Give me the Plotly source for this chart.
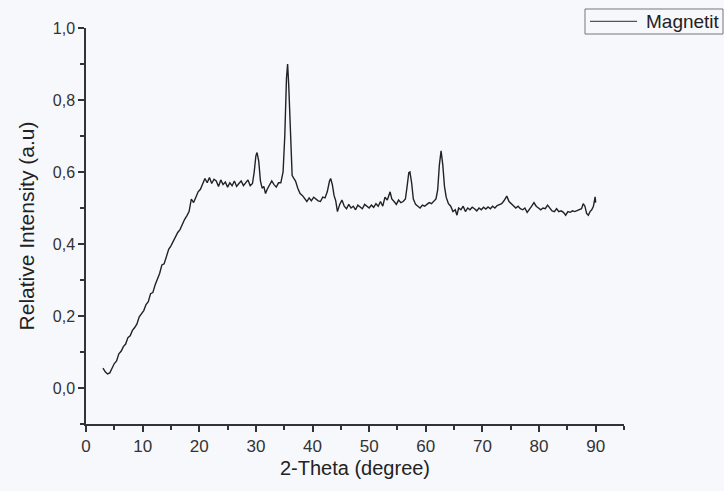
import plotly.graph_objects as go

two_theta = [
    3.0, 3.4, 3.8, 4.2, 4.6, 5.0, 5.4, 5.8, 6.2, 6.6, 7.0, 7.4, 7.8, 8.2, 8.6, 9.0, 9.4, 9.8,
    10.2, 10.6, 11.0, 11.4, 11.8, 12.2, 12.6, 13.0, 13.4, 13.8, 14.2, 14.6, 15.0, 15.4, 15.8,
    16.2, 16.6, 17.0, 17.4, 17.8, 18.2, 18.6, 19.0, 19.4, 19.8, 20.2, 20.6, 21.0, 21.4, 21.8,
    22.2, 22.6, 23.0, 23.4, 23.8, 24.2, 24.6, 25.0, 25.4, 25.8, 26.2, 26.6, 27.0, 27.4, 27.8,
    28.2, 28.6, 29.0, 29.4, 29.7, 30.0, 30.2, 30.5, 30.8, 31.1, 31.4, 31.7, 32.0, 32.4, 32.8,
    33.2, 33.6, 34.0, 34.4, 34.8, 35.1, 35.4, 35.6, 35.8, 36.1, 36.4, 36.7, 37.0, 37.4, 37.8,
    38.2, 38.6, 39.0, 39.4, 39.8, 40.2, 40.6, 41.0, 41.4, 41.8, 42.2, 42.6, 43.0, 43.2, 43.5,
    43.8, 44.1, 44.4, 44.8, 45.2, 45.6, 46.0, 46.4, 46.8, 47.2, 47.6, 48.0, 48.4, 48.8, 49.2,
    49.6, 50.0, 50.4, 50.8, 51.2, 51.6, 52.0, 52.4, 52.8, 53.2, 53.7, 54.0, 54.4, 54.8, 55.2,
    55.6, 56.0, 56.4, 56.7, 57.0, 57.2, 57.5, 57.8, 58.2, 58.6, 59.0, 59.4, 59.8, 60.2, 60.6,
    61.0, 61.4, 61.8, 62.1, 62.4, 62.7, 63.0, 63.3, 63.6, 64.0, 64.4, 64.8, 65.2, 65.5, 65.8,
    66.2, 66.6, 67.0, 67.4, 67.8, 68.2, 68.6, 69.0, 69.4, 69.8, 70.2, 70.6, 71.0, 71.4, 71.8,
    72.2, 72.6, 73.0, 73.4, 73.8, 74.3, 74.7, 75.1, 75.5, 75.9, 76.3, 76.7, 77.1, 77.5, 77.9,
    78.3, 78.7, 79.1, 79.5, 79.9, 80.3, 80.7, 81.1, 81.5, 81.9, 82.3, 82.7, 83.1, 83.5, 83.9,
    84.3, 84.7, 85.1, 85.5, 85.9, 86.3, 86.7, 87.1, 87.5, 87.8, 88.1, 88.4, 88.7, 89.0, 89.3,
    89.6, 89.9, 90.0,
]

intensity = [
    0.055, 0.045, 0.039, 0.042, 0.055, 0.068, 0.075, 0.095, 0.102, 0.115, 0.122, 0.140, 0.145,
    0.160, 0.168, 0.178, 0.198, 0.205, 0.215, 0.232, 0.240, 0.262, 0.265, 0.286, 0.300, 0.318,
    0.342, 0.345, 0.365, 0.385, 0.395, 0.408, 0.420, 0.432, 0.440, 0.455, 0.468, 0.478, 0.490,
    0.525, 0.515, 0.530, 0.545, 0.552, 0.565, 0.582, 0.570, 0.585, 0.568, 0.580, 0.575, 0.560,
    0.578, 0.565, 0.572, 0.558, 0.570, 0.562, 0.575, 0.560, 0.568, 0.575, 0.562, 0.570, 0.578,
    0.562, 0.568, 0.600, 0.645, 0.654, 0.630, 0.575, 0.555, 0.560, 0.540, 0.552, 0.565, 0.575,
    0.565, 0.558, 0.570, 0.570, 0.600, 0.700, 0.860, 0.900, 0.840, 0.680, 0.590, 0.582, 0.575,
    0.555, 0.540, 0.535, 0.525, 0.518, 0.528, 0.520, 0.530, 0.525, 0.520, 0.518, 0.530, 0.528,
    0.545, 0.575, 0.582, 0.565, 0.535, 0.520, 0.490, 0.510, 0.522, 0.505, 0.498, 0.510, 0.500,
    0.505, 0.495, 0.508, 0.502, 0.498, 0.510, 0.505, 0.500, 0.508, 0.502, 0.512, 0.505, 0.518,
    0.505, 0.530, 0.522, 0.545, 0.525, 0.518, 0.510, 0.522, 0.515, 0.518, 0.525, 0.560, 0.598,
    0.600, 0.570, 0.525, 0.510, 0.505, 0.500, 0.508, 0.505, 0.510, 0.515, 0.512, 0.520, 0.525,
    0.550, 0.620, 0.659, 0.620, 0.560, 0.530, 0.512, 0.505, 0.490, 0.495, 0.480, 0.500, 0.495,
    0.505, 0.490, 0.500, 0.495, 0.502, 0.498, 0.492, 0.500, 0.495, 0.502, 0.497, 0.503, 0.498,
    0.505, 0.500, 0.507, 0.510, 0.512, 0.520, 0.533, 0.518, 0.512, 0.505, 0.500, 0.505, 0.498,
    0.495, 0.500, 0.488, 0.495, 0.505, 0.515, 0.505, 0.500, 0.495, 0.500, 0.498, 0.508, 0.500,
    0.492, 0.490, 0.498, 0.490, 0.492, 0.488, 0.480, 0.490, 0.488, 0.492, 0.490, 0.493, 0.495,
    0.498, 0.512, 0.505, 0.485, 0.480, 0.490, 0.495, 0.505, 0.531, 0.515,
]

series_name = "Magnetit"
x_ticks = [0, 10, 20, 30, 40, 50, 60, 70, 80, 90]
y_ticks = [0.0, 0.2, 0.4, 0.6, 0.8, 1.0]
y_tick_labels = ["0,0", "0,2", "0,4", "0,6", "0,8", "1,0"]

bg = "#f7f8fc"
axis_col = "#333333"
line_col = "#222222"
font_family = "Arial"

fig = go.Figure()
fig.add_trace(go.Scatter(
    x=two_theta, y=intensity, mode="lines", name=series_name,
    line=dict(color=line_col, width=1.4), showlegend=False,
))

# Legend box drawn in paper coordinates (outside the plot area, top-right)
fig.add_shape(type="rect", xref="paper", yref="paper",
              x0=0.9275, x1=1.184, y0=0.9848, y1=1.048,
              line=dict(color="#777777", width=1), fillcolor="rgba(0,0,0,0)")
fig.add_shape(type="line", xref="paper", yref="paper",
              x0=0.9368, x1=1.0242, y0=1.0165, y1=1.0165,
              line=dict(color="#555555", width=1.2))
fig.add_annotation(xref="paper", yref="paper", x=1.037, y=1.0165,
                   xanchor="left", yanchor="middle", showarrow=False,
                   text=series_name,
                   font=dict(family=font_family, size=19, color="#222222"))

fig.update_layout(
    width=724, height=491,
    margin=dict(l=86, r=100, t=28, b=67, autoexpand=False),
    paper_bgcolor=bg, plot_bgcolor=bg,
    font=dict(family=font_family, color="#333333", size=16),
    showlegend=False,
)

fig.update_xaxes(
    range=[0, 95], showgrid=False, zeroline=False,
    showline=True, linecolor=axis_col, linewidth=1.5,
    ticks="outside", tickcolor=axis_col, tickwidth=1.5, ticklen=6,
    tickvals=x_ticks,
    minor=dict(ticks="outside", dtick=5, tick0=0, ticklen=4, tickcolor=axis_col, tickwidth=1.5),
    tickfont=dict(family=font_family, size=17, color="#333333"),
    title=dict(text="2-Theta (degree)", font=dict(family=font_family, size=20, color="#222222"), standoff=6),
)
fig.update_yaxes(
    range=[-0.1, 1.0], showgrid=False, zeroline=False,
    showline=True, linecolor=axis_col, linewidth=1.5,
    ticks="outside", tickcolor=axis_col, tickwidth=1.5, ticklen=6,
    tickvals=y_ticks, ticktext=y_tick_labels,
    minor=dict(ticks="outside", dtick=0.1, tick0=0, ticklen=4, tickcolor=axis_col, tickwidth=1.5),
    tickfont=dict(family=font_family, size=16, color="#333333"),
    title=dict(text="Relative Intensity (a.u)", font=dict(family=font_family, size=21, color="#222222"), standoff=12),
)

fig.write_html("out.html")
